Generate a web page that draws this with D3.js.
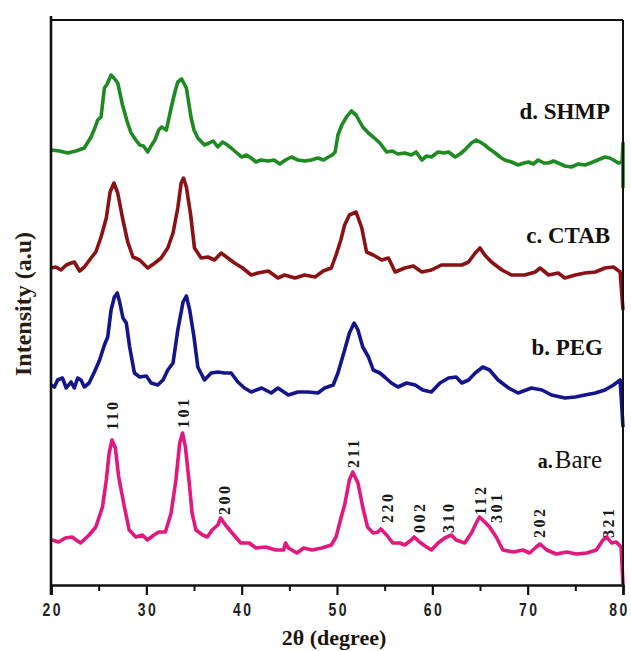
<!DOCTYPE html>
<html>
<head>
<meta charset="utf-8">
<script src="https://cdn.jsdelivr.net/npm/d3@7/dist/d3.min.js"></script>
<style>
  html, body { margin: 0; padding: 0; background: #fff; }
  svg { display: block; }
</style>
</head>
<body>
<svg id="chart" width="631" height="651"></svg>
<script>
// ---------- DATA ----------
const seriesNames = ["d. SHMP", "c. CTAB", "b. PEG", "a.Bare"];
const xTicks = [20, 30, 40, 50, 60, 70, 80];
const xMinorTicks = [25, 35, 45, 55, 65, 75];

// [2theta, intensity (a.u., stacked offset included)]
const shmp = [[20.0,435],[20.9,434],[21.75,432],[22.6,434],[23.5,437],[24.2,448],[24.6,457],[24.9,465],[25.25,468],[25.6,497],[25.9,501],[26.3,510],[26.6,507],[27.0,502],[27.5,480],[28.0,463],[28.4,452],[28.9,445],[29.3,440],[29.7,439],[30.15,433],[30.5,439],[30.9,445],[31.3,455],[31.6,458],[32.1,455],[32.6,477],[33.0,493],[33.3,503],[33.7,506],[34.2,497],[34.7,467],[35.0,455],[35.4,447],[35.8,443],[36.1,440],[36.6,442],[37.0,444],[37.5,438],[38.0,443],[38.5,440],[38.9,437],[39.5,432],[40.0,428],[40.5,430],[41.0,427],[41.5,423],[42.0,425],[42.8,424],[43.4,425],[44.0,421],[44.6,425],[45.2,428],[45.9,425],[46.6,424],[47.3,425],[48.0,427],[48.6,425],[49.1,428],[49.5,430],[49.8,433],[50.1,450],[50.5,460],[51.0,468],[51.5,474],[52.0,470],[52.7,458],[53.3,452],[53.8,448],[54.5,442],[55.2,433],[55.8,434],[56.4,431],[57.1,432],[57.8,430],[58.3,433],[58.9,425],[59.4,429],[59.9,428],[60.6,433],[61.2,432],[61.7,433],[62.4,428],[62.9,431],[63.4,435],[64.1,442],[64.6,445],[65.0,443],[65.5,440],[66.0,436],[66.6,432],[67.1,428],[67.6,425],[68.3,423],[69.0,420],[69.6,422],[70.1,423],[70.6,421],[71.1,425],[71.7,422],[72.2,422],[72.7,424],[73.2,422],[73.9,419],[74.6,418],[75.3,421],[76.0,420],[76.6,422],[77.1,424],[77.6,426],[78.1,428],[78.6,427],[79.0,425],[79.5,422],[79.9,423],[80.0,442],[80.0,397]];

const ctab = [[20.0,317],[20.5,318],[21.05,315],[21.6,320],[22.1,322],[22.45,323],[23.0,314],[23.5,318],[24.2,327],[24.7,333],[25.25,348],[25.8,367],[26.2,393],[26.6,402],[27.0,392],[27.5,367],[28.05,343],[28.6,328],[29.3,325],[30.15,317],[30.9,322],[31.55,327],[32.25,337],[32.8,352],[33.3,377],[33.65,402],[33.9,407],[34.2,398],[34.65,370],[35.05,337],[35.75,327],[36.45,328],[37.15,325],[37.85,332],[38.55,327],[39.25,322],[40.1,317],[41.0,310],[41.7,312],[42.8,314],[43.8,307],[44.5,310],[45.6,307],[46.6,310],[47.7,308],[48.55,314],[49.4,317],[49.9,330],[50.4,345],[50.8,360],[51.3,370],[52.0,373],[52.6,357],[53.1,333],[53.8,330],[54.7,325],[55.4,327],[56.1,313],[57.1,317],[58.0,319],[58.9,313],[59.9,315],[60.95,320],[62.0,320],[63.1,320],[63.8,323],[64.5,332],[65.0,337],[65.5,330],[66.2,323],[67.3,315],[68.3,310],[69.7,310],[70.8,313],[71.3,317],[72.2,310],[73.2,312],[73.9,307],[75.0,310],[76.0,312],[77.1,313],[78.1,317],[79.0,318],[79.7,313],[80.0,275]];

const peg = [[20.0,200],[20.35,198],[20.7,205],[21.2,207],[21.6,197],[22.1,203],[22.45,197],[22.8,207],[23.15,205],[23.5,198],[24.0,202],[24.55,213],[25.1,225],[25.6,240],[25.95,248],[26.3,275],[26.65,288],[26.95,292],[27.2,283],[27.55,267],[27.9,262],[28.25,238],[28.75,212],[29.3,208],[30.0,209],[30.5,202],[31.2,200],[31.75,205],[32.25,215],[32.8,222],[33.3,255],[33.85,283],[34.2,289],[34.55,275],[35.0,248],[35.4,218],[36.1,205],[36.8,212],[37.5,213],[38.2,212],[38.9,212],[39.6,203],[40.3,197],[41.0,193],[42.1,197],[43.1,192],[43.8,197],[44.9,190],[45.9,193],[47.0,193],[48.0,192],[48.7,197],[49.6,200],[50.1,212],[50.8,235],[51.3,252],[51.8,262],[52.2,255],[52.7,238],[53.3,228],[53.8,215],[54.5,212],[55.0,208],[55.7,202],[56.4,198],[57.3,202],[58.2,200],[59.0,195],[59.9,193],[60.8,202],[61.7,207],[62.5,208],[63.1,202],[63.8,205],[64.5,212],[65.3,218],[66.0,215],[66.9,205],[68.0,197],[69.0,192],[70.4,197],[71.5,195],[72.5,190],[73.9,187],[75.0,188],[76.0,190],[77.1,192],[78.1,195],[79.0,200],[79.7,205],[80.0,158]];

const bare = [[20.1,45],[20.8,43],[21.5,47],[22.2,48],[23.1,42],[24.0,50],[24.7,58],[25.4,78],[25.8,105],[26.1,132],[26.4,145],[26.75,137],[27.1,108],[27.7,78],[28.2,55],[28.9,48],[29.6,50],[30.1,45],[30.8,50],[31.3,53],[32.0,53],[32.6,72],[33.1,105],[33.5,142],[33.8,152],[34.1,138],[34.5,102],[34.8,72],[35.2,55],[35.9,50],[36.4,48],[36.9,55],[37.5,60],[37.8,67],[38.3,60],[39.0,52],[39.9,42],[40.8,42],[41.5,37],[42.5,38],[43.6,35],[44.4,35],[44.6,42],[44.9,37],[45.8,32],[46.5,37],[47.4,35],[48.4,37],[49.4,40],[49.9,48],[50.5,70],[50.8,80],[51.3,105],[51.65,113],[52.2,102],[52.7,78],[53.2,58],[53.8,52],[54.3,53],[54.6,56],[55.2,50],[55.85,42],[56.6,42],[57.1,40],[57.8,45],[58.1,48],[58.65,43],[59.4,38],[59.9,35],[60.6,42],[61.3,47],[62.0,50],[62.5,45],[63.4,42],[64.1,52],[64.6,62],[64.95,68],[65.5,63],[66.0,58],[66.7,48],[67.4,35],[68.5,33],[69.5,35],[70.2,32],[70.9,38],[71.3,41],[72.0,35],[73.0,31],[74.1,33],[75.1,31],[76.2,32],[77.2,35],[77.9,45],[78.3,48],[78.8,42],[79.3,43],[79.8,38],[80.0,1]];

// Miller indices of the Bare peaks: label, 2theta, intensity where the label starts
const hklLabels = ["110","101","200","211","220","002","310","112","301","202","321"];
const hklTheta  = [26.5, 33.85, 38.25, 51.7, 55.25, 58.7, 61.65, 65.0, 66.7, 71.2, 78.45];
const hklLevel  = [155, 157, 70, 117, 62, 52, 52, 70, 62, 47, 47];

// ---------- LAYOUT ----------
const svg = d3.select("#chart");
const M = {left: 51, right: 623, top: 20, bottom: 585};
const x = d3.scaleLinear().domain([20, 80]).range([M.left, M.right]);
const y = d3.scaleLinear().domain([0, 565]).range([M.bottom, M.top]);

const colors = {"d. SHMP": "#1f8a22", "c. CTAB": "#8a1214", "b. PEG": "#14148c", "a.Bare": "#e2187f"};
const seriesData = {"d. SHMP": shmp, "c. CTAB": ctab, "b. PEG": peg, "a.Bare": bare};

const line = d3.line().x(d => x(d[0])).y(d => y(d[1]));

// curves
seriesNames.forEach(n => {
  svg.append("path")
    .datum(seriesData[n])
    .attr("fill", "none")
    .attr("stroke", colors[n])
    .attr("stroke-width", 3.6)
    .attr("stroke-linejoin", "round")
    .attr("d", line);
});

// frame: top and right border
svg.append("line").attr("x1", M.left).attr("x2", M.right).attr("y1", M.top).attr("y2", M.top)
  .attr("stroke", "#111").attr("stroke-width", 2.2);
svg.append("line").attr("x1", M.right).attr("x2", M.right).attr("y1", M.top).attr("y2", M.bottom)
  .attr("stroke", "#111").attr("stroke-width", 2);

// left axis line (extends slightly beyond like the reference)
svg.append("line").attr("x1", M.left).attr("x2", M.left).attr("y1", M.top - 4).attr("y2", M.bottom + 10)
  .attr("stroke", "#111").attr("stroke-width", 2.6);

// x axis
const xAxis = d3.axisBottom(x).tickValues(xTicks).tickSize(10).tickFormat(d3.format("d"));
const gx = svg.append("g").attr("transform", `translate(0,${M.bottom})`).call(xAxis);
gx.select(".domain").attr("stroke", "#111").attr("stroke-width", 2.6);
gx.selectAll(".tick line").attr("stroke", "#111").attr("stroke-width", 2.2);
gx.selectAll(".tick text")
  .attr("fill", "#222")
  .attr("font-family", "Liberation Sans, Arial, sans-serif")
  .attr("font-weight", "bold")
  .attr("font-size", 14)
  .attr("letter-spacing", 2.5)
  .attr("dy", 0)
  .attr("y", 0)
  .attr("transform", d => `translate(${d === 80 ? -4 : 1.2},31) scale(1,1.35)`);
const xAxisMinor = d3.axisBottom(x).tickValues(xMinorTicks).tickSize(6).tickFormat("");
const gxm = svg.append("g").attr("transform", `translate(0,${M.bottom})`).call(xAxisMinor);
gxm.select(".domain").remove();
gxm.selectAll(".tick line").attr("stroke", "#111").attr("stroke-width", 2);

// axis titles
svg.append("text")
  .attr("x", (M.left + M.right) / 2 - 3)
  .attr("y", 645)
  .attr("text-anchor", "middle")
  .attr("font-family", "Liberation Serif, Times New Roman, serif")
  .attr("font-weight", "bold")
  .attr("font-size", 22)
  .attr("fill", "#1c140c")
  .text("2θ (degree)");

svg.append("text")
  .attr("transform", "translate(31,304) rotate(-90)")
  .attr("text-anchor", "middle")
  .attr("font-family", "Liberation Serif, Times New Roman, serif")
  .attr("font-weight", "bold")
  .attr("font-size", 24)
  .attr("fill", "#2a1c10")
  .text("Intensity (a.u)");

// series labels
const labelPos = {"d. SHMP": [78.65, 466], "c. CTAB": [78.65, 342], "b. PEG": [77.9, 230], "a.Bare": [77.8, 117]};
seriesNames.forEach(n => {
  const t = svg.append("text")
    .attr("x", x(labelPos[n][0]))
    .attr("y", y(labelPos[n][1]))
    .attr("text-anchor", "end")
    .attr("font-family", "Liberation Serif, Times New Roman, serif")
    .attr("font-weight", "bold")
    .attr("font-size", 23)
    .attr("fill", "#14110e");
  if (n === "a.Bare") {
    t.append("tspan").attr("font-size", 20).text("a.");
    t.append("tspan").attr("font-weight", "normal").attr("font-size", 25).attr("dx", 2).text("Bare");
  } else {
    t.text(n);
  }
});

// hkl labels
hklLabels.forEach((lab, i) => {
  svg.append("text")
    .attr("transform", `translate(${x(hklTheta[i])},${y(hklLevel[i])}) rotate(-90)`)
    .attr("text-anchor", "start")
    .attr("dominant-baseline", "central")
    .attr("font-family", "Liberation Serif, Times New Roman, serif")
    .attr("font-weight", "bold")
    .attr("font-size", 16)
    .attr("letter-spacing", 2.5)
    .attr("fill", "#1a1a1a")
    .text(lab);
});
</script>
</body>
</html>
